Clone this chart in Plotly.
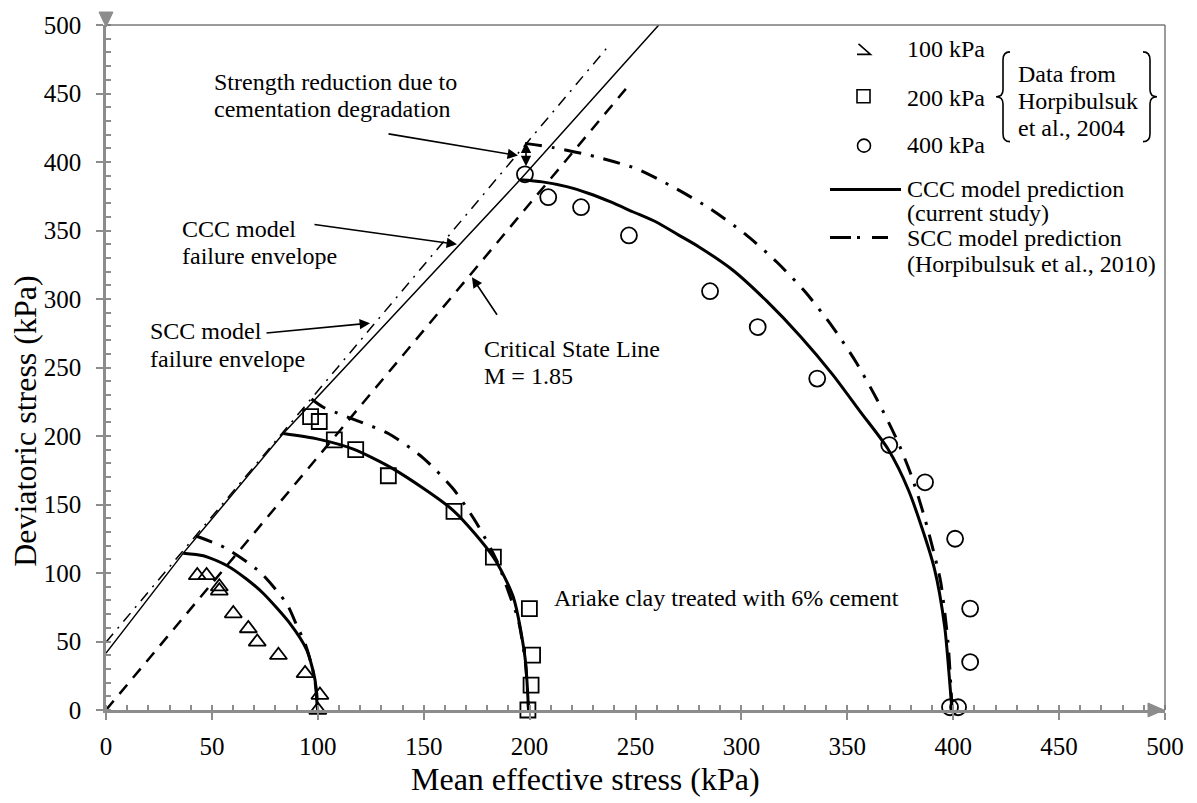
import plotly.graph_objects as go

# ---------------- data ----------------
tri_p = [43.1, 47.5, 53.5, 53.5, 60.1, 67.2, 71.4, 81.4, 94.0, 101.0, 100.0]
tri_q = [98.2, 98.2, 90.0, 87.0, 70.4, 59.5, 49.7, 40.0, 26.7, 10.9, 0.0]

sq_p = [96.6, 100.7, 107.8, 117.9, 133.3, 164.3, 182.9, 199.9, 201.4, 200.7, 199.2]
sq_q = [214.2, 210.6, 197.2, 190.0, 171.0, 145.0, 111.6, 74.0, 40.0, 18.2, 0.0]

ci_p = [197.8, 208.8, 224.3, 246.9, 285.2, 307.7, 335.8, 369.8, 386.7, 400.9, 408.0, 408.0, 398.5, 402.3]
ci_q = [391.0, 374.3, 367.0, 346.4, 305.7, 279.5, 241.9, 193.4, 166.2, 125.0, 74.0, 35.0, 2.0, 2.0]

ccc100_p = [36.5, 46.0, 57.0, 66.0, 74.3, 86.9, 94.8, 98.7, 99.8, 100.0]
ccc100_q = [114.5, 112.6, 105.5, 96.0, 85.0, 63.0, 43.7, 21.8, 1.2, 0.0]
scc100_p = [42.5, 56.2, 72.7, 85.3, 90.0, 94.0, 97.5, 99.5, 100.0]
scc100_q = [127.0, 118.4, 100.7, 77.6, 62.0, 48.5, 30.0, 12.0, 0.0]

ccc200_p = [83.7, 100.2, 116.8, 135.6, 164.0, 182.9, 192.3, 197.8, 199.5]
ccc200_q = [201.8, 197.7, 190.4, 176.0, 145.6, 111.6, 82.5, 38.8, 0.0]
scc200_p = [97.0, 102.6, 133.3, 149.8, 164.0, 175.0, 184.5, 191.5, 194.7, 198.0, 199.5]
scc200_q = [227.0, 221.0, 201.8, 183.9, 161.3, 136.3, 109.0, 80.0, 65.5, 35.0, 0.0]

ccc400_p = [195.5, 206.0, 217.5, 228.0, 238.0, 249.0, 260.0, 270.0, 280.0, 296.0, 312.0, 328.0, 343.0,
            356.0, 369.0, 379.0, 391.0, 396.0, 399.3, 399.5]
ccc400_q = [387.0, 385.5, 382.0, 377.0, 371.0, 363.5, 356.0, 347.0, 338.0, 321.0, 298.4, 272.5, 245.0,
            218.0, 191.0, 160.0, 104.0, 60.6, 2.4, 0.0]
scc400_p = [197.8, 211.2, 230.9, 250.6, 267.9, 285.2, 301.7, 316.7, 330.5, 343.1, 354.1, 363.9, 373.3,
            380.4, 386.2, 391.4, 394.1, 397.5, 399.5]
scc400_q = [413.6, 410.5, 404.0, 395.0, 381.6, 366.0, 347.5, 327.0, 304.5, 279.5, 254.0, 227.0, 197.7,
            170.5, 142.0, 111.6, 93.4, 50.0, 0.0]

ccc_env_p = [0.0, 36.5, 83.7, 195.5, 261.0]
ccc_env_q = [41.5, 114.5, 201.8, 387.0, 500.0]
scc_env_p = [0.0, 238.0]
scc_env_q = [49.5, 486.0]
csl_p = [0.0, 247.4]
csl_q = [0.0, 457.0]

tick_vals = [0, 50, 100, 150, 200, 250, 300, 350, 400, 450, 500]

# ---------------- figure ----------------
FONT = "Liberation Serif"
L, R, T, B = 106, 1165, 23, 710
W, H = 1197, 803


def pp(px, py):
    return (px - L) / (R - L), (B - py) / (B - T)


def path(points, close=False):
    s = ""
    for (cmd, *pts) in points:
        s += cmd
        for (a, b) in zip(pts[0::2], pts[1::2]):
            x, y = pp(a, b)
            s += f" {x:.5f},{y:.5f}"
        s += " "
    if close:
        s += "Z"
    return s


fig = go.Figure()

DD_CURVE = "17px,10px,3px,10px"
DD_ENV = "11px,7px,2px,7px"

fig.add_trace(go.Scatter(x=csl_p, y=csl_q, mode="lines",
                         line=dict(color="black", width=2.5, dash="12px,9px"), showlegend=False))
fig.add_trace(go.Scatter(x=scc_env_p, y=scc_env_q, mode="lines",
                         line=dict(color="black", width=1.5, dash=DD_ENV), showlegend=False))
fig.add_trace(go.Scatter(x=ccc_env_p, y=ccc_env_q, mode="lines",
                         line=dict(color="black", width=1.5), showlegend=False))

for px_, qy_ in [(scc100_p, scc100_q), (scc200_p, scc200_q), (scc400_p, scc400_q)]:
    fig.add_trace(go.Scatter(x=px_, y=qy_, mode="lines",
                             line=dict(color="black", width=3, dash=DD_CURVE, shape="spline", smoothing=0.7),
                             showlegend=False))
for px_, qy_ in [(ccc100_p, ccc100_q), (ccc200_p, ccc200_q), (ccc400_p, ccc400_q)]:
    fig.add_trace(go.Scatter(x=px_, y=qy_, mode="lines",
                             line=dict(color="black", width=3, shape="spline", smoothing=0.7),
                             showlegend=False))

fig.add_trace(go.Scatter(x=tri_p, y=tri_q, mode="markers", cliponaxis=False,
                         marker=dict(symbol="triangle-up-open", size=15, color="black",
                                     line=dict(width=1.8, color="black")), showlegend=False))
fig.add_trace(go.Scatter(x=sq_p, y=sq_q, mode="markers", cliponaxis=False,
                         marker=dict(symbol="square-open", size=15, color="black",
                                     line=dict(width=1.8, color="black")), showlegend=False))
fig.add_trace(go.Scatter(x=ci_p, y=ci_q, mode="markers", cliponaxis=False,
                         marker=dict(symbol="circle-open", size=16, color="black",
                                     line=dict(width=1.8, color="black")), showlegend=False))

GRAY = "#8c8c8c"
axis_common = dict(range=[0, 500], tickvals=tick_vals, showgrid=False, zeroline=False,
                   showline=True, linecolor=GRAY, linewidth=2.5,
                   ticks="outside", ticklen=7, tickwidth=2, tickcolor=GRAY,
                   tickfont=dict(family=FONT, size=25, color="black"),
                   minor=dict(dtick=10, ticks="inside", ticklen=5, tickwidth=1.5, tickcolor=GRAY))
fig.update_xaxes(**axis_common, ticklabelstandoff=5)
fig.update_yaxes(**axis_common, ticklabelstandoff=10)

shapes = []
shapes.append(dict(type="line", xref="paper", yref="paper", x0=0, y0=1, x1=1, y1=1,
                   line=dict(color="#7a7a7a", width=1.5)))
shapes.append(dict(type="line", xref="paper", yref="paper", x0=1, y0=0, x1=1, y1=1,
                   line=dict(color="#7a7a7a", width=1.5)))
# axis arrows
shapes.append(dict(type="path", xref="paper", yref="paper",
                   path=path([("M", 99, 10), ("L", 113, 10), ("L", 106, 25)], close=True),
                   fillcolor=GRAY, line=dict(color=GRAY, width=1)))
shapes.append(dict(type="path", xref="paper", yref="paper",
                   path=path([("M", 1148, 703), ("L", 1164, 710), ("L", 1148, 717)], close=True),
                   fillcolor=GRAY, line=dict(color=GRAY, width=1)))
# legend symbols
shapes.append(dict(type="path", xref="paper", yref="paper",
                   path=path([("M", 858.5, 42), ("L", 870.5, 52.5), ("L", 857, 52.5)]),
                   line=dict(color="black", width=1.6)))
sx0, sy0 = pp(857, 101)
sx1, sy1 = pp(870, 88)
shapes.append(dict(type="rect", xref="paper", yref="paper", x0=sx0, y0=sy0, x1=sx1, y1=sy1,
                   line=dict(color="black", width=1.6)))
cx0, cy0 = pp(857.5, 150.5)
cx1, cy1 = pp(870.5, 137.5)
shapes.append(dict(type="circle", xref="paper", yref="paper", x0=cx0, y0=cy0, x1=cx1, y1=cy1,
                   line=dict(color="black", width=1.6)))
lx0, ly = pp(830, 188)
lx1, _ = pp(901, 188)
shapes.append(dict(type="line", xref="paper", yref="paper", x0=lx0, y0=ly, x1=lx1, y1=ly,
                   line=dict(color="black", width=3)))
lx0, ly = pp(830, 236)
lx1, _ = pp(888, 236)
shapes.append(dict(type="line", xref="paper", yref="paper", x0=lx0, y0=ly, x1=lx1, y1=ly,
                   line=dict(color="black", width=3, dash="21px,6px,3px,12px")))


def brace(xe, xb, xt, yt, ym, yb):
    return path([("M", xe, yt), ("Q", xb, yt, xb, yt + 8), ("L", xb, ym - 7),
                 ("Q", xb, ym, xt, ym), ("Q", xb, ym, xb, ym + 7), ("L", xb, yb - 8),
                 ("Q", xb, yb, xe, yb)])


shapes.append(dict(type="path", xref="paper", yref="paper", path=brace(1010, 1003, 996, 50, 95, 140),
                   line=dict(color="black", width=1.6)))
shapes.append(dict(type="path", xref="paper", yref="paper", path=brace(1143, 1150, 1157, 50, 95, 140),
                   line=dict(color="black", width=1.6)))
fig.update_layout(shapes=shapes)

ann = []


def text(px, py, s, size=24, anchor="left", angle=0):
    x, y = pp(px, py)
    ann.append(dict(xref="paper", yref="paper", x=x, y=y, text=s, showarrow=False,
                    xanchor=anchor, yanchor="middle", textangle=angle,
                    font=dict(family=FONT, size=size, color="black")))


def arrow(tx, ty, hx, hy, side="end"):
    x, y = pp(hx, hy)
    ann.append(dict(xref="paper", yref="paper", x=x, y=y, ax=tx - hx, ay=ty - hy, text="",
                    showarrow=True, arrowhead=2, arrowsize=1.3, arrowwidth=1.6,
                    arrowcolor="black", arrowside=side))


text(905, 47, "100 kPa")
text(905, 96, "200 kPa")
text(905, 143, "400 kPa")
text(1016, 72, "Data from")
text(1016, 99, "Horpibulsuk")
text(1016, 126, "et al., 2004")
text(905, 187, "CCC model prediction")
text(905, 212, "(current study)")
text(905, 237, "SCC model prediction")
text(905, 263, "(Horpibulsuk et al., 2010)")

text(212, 80, "Strength reduction due to")
text(212, 107, "cementation degradation")
text(180, 228, "CCC model")
text(180, 255, "failure envelope")
text(148, 330, "SCC model")
text(148, 358, "failure envelope")
text(482, 348, "Critical State Line")
text(482, 375, "M = 1.85")
text(552, 598, "Ariake clay treated with 6% cement")

arrow(387, 132, 518, 154)
arrow(526, 166, 526, 141, side="end+start")
arrow(313, 223, 457, 243)
arrow(265, 332, 370, 322)
arrow(498, 315, 472, 276)

text(585, 779, "Mean effective stress (kPa)", size=32, anchor="center")
text(25, 421, "Deviatoric stress (kPa)", size=32, anchor="center", angle=-90)

fig.update_layout(annotations=ann, width=W, height=H,
                  margin=dict(l=L, r=W - R, t=T, b=H - B),
                  plot_bgcolor="white", paper_bgcolor="white", showlegend=False)

fig.write_html("out.html")
